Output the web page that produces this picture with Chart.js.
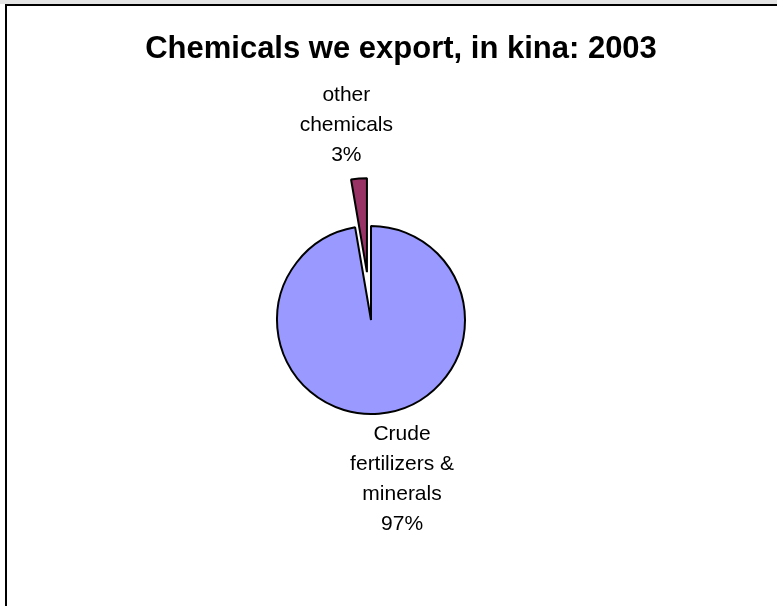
<!DOCTYPE html>
<html lang="en">
<head>
    <meta charset="UTF-8">
    <title>Chemicals we export, in kina: 2003</title>
    <script src="https://cdn.jsdelivr.net/npm/chart.js"></script>
    <style>
        html, body { margin: 0; padding: 0; background: #fff; }
        #wrap { width: 777px; height: 606px; }
    </style>
</head>
<body>
    <div id="wrap"><canvas id="pie" width="777" height="606"></canvas></div>

    <script>
        // Data (share of chemical exports, %)
        const categories = ['Crude\nfertilizers &\nminerals', 'other\nchemicals'];
        const shares = [97.3, 2.7];
        const percentLabels = ['97%', '3%'];
        const sliceColors = ['#9999FF', '#993366'];
        const explodePx = [0, 48];   // the small slice is pulled out, in pixels

        const titleText = 'Chemicals we export, in kina: 2003';

        // frame + background, like the exported sheet
        const framePlugin = {
            id: 'frame',
            beforeDraw(chart) {
                const c = chart.ctx;
                c.save();
                c.fillStyle = '#fff';
                c.fillRect(0, 0, chart.width, chart.height);
                c.fillStyle = '#e4e4e4';
                c.fillRect(0, 0, chart.width, 4);
                c.fillStyle = '#000';
                c.fillRect(5, 4, 2, chart.height - 4);
                c.fillRect(5, 4, chart.width - 5, 2);
                c.restore();
            },
            afterDraw(chart) {
                const c = chart.ctx;
                c.save();
                c.font = 'bold 31px "Liberation Sans", Arial, sans-serif';
                c.fillStyle = '#000';
                c.textAlign = 'center';
                c.textBaseline = 'alphabetic';
                c.fillText(titleText, 401, 58);
                c.restore();
            }
        };

        // Excel-style explode: move the whole slice out, keep its radius
        const explodePlugin = {
            id: 'explode',
            afterDatasetsUpdate(chart) {
                const meta = chart.getDatasetMeta(0);
                meta.data.forEach((arc, i) => {
                    const d = explodePx[i] || 0;
                    if (!d) return;
                    const mid = (arc.startAngle + arc.endAngle) / 2;
                    arc.x += Math.cos(mid) * d;
                    arc.y += Math.sin(mid) * d;
                });
            }
        };

        // labels outside the slices, placed along each slice's middle angle
        const nudge = [[18, -2], [-8, 0]];
        const labelPlugin = {
            id: 'sliceLabels',
            afterDatasetsDraw(chart) {
                const c = chart.ctx;
                const meta = chart.getDatasetMeta(0);
                c.save();
                c.font = '21px "Liberation Sans", Arial, sans-serif';
                c.fillStyle = '#000';
                c.textAlign = 'center';
                c.textBaseline = 'middle';
                const lh = 30;
                meta.data.forEach((arc, i) => {
                    const mid = (arc.startAngle + arc.endAngle) / 2;
                    const dx = Math.cos(mid), dy = Math.sin(mid);
                    const lines = categories[i].split('\n').concat(percentLabels[i]);
                    const h = lines.length * lh;
                    let w = 0;
                    lines.forEach(l => { w = Math.max(w, c.measureText(l).width); });
                    const dist = arc.outerRadius + 8;
                    const cx = arc.x + dx * (dist + w / 2) + nudge[i][0];
                    const cy = arc.y + dy * (dist + h / 2) + nudge[i][1];
                    lines.forEach((l, k) => {
                        c.fillText(l, cx, cy - h / 2 + lh / 2 + k * lh);
                    });
                });
                c.restore();
            }
        };

        const ctx = document.getElementById('pie').getContext('2d');
        new Chart(ctx, {
            type: 'pie',
            data: {
                labels: categories,
                datasets: [{
                    data: shares,
                    backgroundColor: sliceColors,
                    borderColor: '#000',
                    borderWidth: 2
                }]
            },
            options: {
                responsive: false,
                animation: false,
                radius: 94,
                rotation: 0,
                layout: { padding: { top: 100, bottom: 66, left: 0, right: 35 } },
                plugins: {
                    legend: { display: false },
                    title: { display: false },
                    tooltip: { enabled: false }
                }
            },
            plugins: [framePlugin, explodePlugin, labelPlugin]
        });
    </script>
</body>
</html>
